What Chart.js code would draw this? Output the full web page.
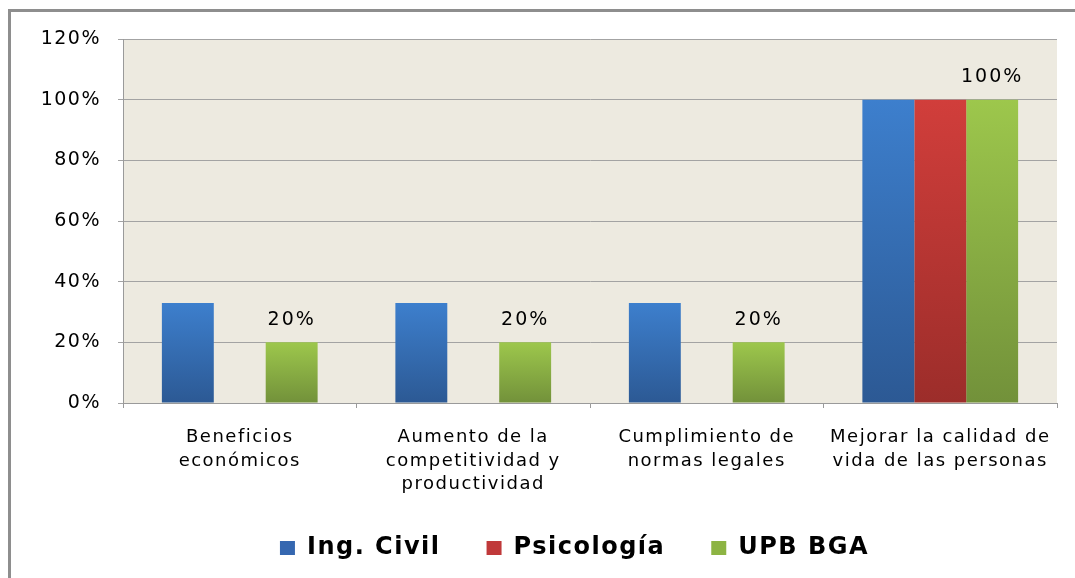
<!DOCTYPE html>
<html>
<head>
<meta charset="utf-8">
<script src="https://cdn.jsdelivr.net/npm/chart.js@4.4.0/dist/chart.umd.min.js"></script>
<style>
  html, body { margin: 0; padding: 0; background: #fff; }
  #wrap { position: relative; width: 1075px; height: 578px; overflow: hidden; }
  #frame { position: absolute; left: 8px; top: 9px; width: 1100px; height: 600px;
           border-top: 3px solid #8e8e8e; border-left: 3px solid #8e8e8e; }
  #chart { position: absolute; left: 0; top: 0; }
</style>
</head>
<body>
<div id="wrap">
  <div id="frame"></div>
  <canvas id="chart" width="1075" height="578"></canvas>
</div>
<script>
// categories (x axis)
const categories = [
    ['Beneficios', 'económicos'],
    ['Aumento de la', 'competitividad y', 'productividad'],
    ['Cumplimiento de', 'normas legales'],
    ['Mejorar la calidad de', 'vida de las personas']
];

// series values (%)
const ingCivil = [33, 33, 33, 100];
const psicologia = [0, 0, 0, 100];
const upbBga = [20, 20, 20, 100];

const seriesNames = ['Ing. Civil', 'Psicología', 'UPB BGA'];
// [top, bottom] of each bar gradient
const seriesColors = [
    ['#3d7fcd', '#2c5994'],
    ['#d13e3b', '#9c2d2a'],
    ['#9dc74c', '#72913a']
];
const legendColors = ['#3567b0', '#c0393a', '#8db443'];

// y tick values
const yMax = 120;
const yStep = 20;

const FONT = "'DejaVu Sans', Verdana, sans-serif";

function barGradient(idx) {
    return (ctx) => {
        const chart = ctx.chart;
        const area = chart.chartArea;
        if (!area || ctx.parsed === undefined) return seriesColors[idx][0];
        const y = chart.scales.y;
        const top = y.getPixelForValue(ctx.parsed.y);
        const bottom = y.getPixelForValue(0);
        if (!(bottom - top > 0)) return seriesColors[idx][0];
        const g = chart.ctx.createLinearGradient(0, top, 0, bottom);
        g.addColorStop(0, seriesColors[idx][0]);
        g.addColorStop(1, seriesColors[idx][1]);
        return g;
    };
}

// the original text is set quite wide, so spread the letters a bit
const spacing = {
    id: 'spacing',
    beforeInit(chart) { chart.ctx.letterSpacing = '1.5px'; },
    beforeLayout(chart) { chart.ctx.letterSpacing = '1.5px'; },
    afterLayout(chart) {
        // let the 3-line category label run past the axis box (not clipped)
        chart.scales.x.bottom += 40;
        // legend sits a bit right of centre in the original
        chart.legend.left += 46;
        chart.legend.right += 46;
    }
};

// beige plot background
const plotBg = {
    id: 'plotBg',
    beforeDraw(chart) {
        const a = chart.chartArea;
        const c = chart.ctx;
        c.save();
        c.fillStyle = '#edeae0';
        c.fillRect(a.left, a.top, a.right - a.left, a.bottom - a.top);
        c.restore();
    }
};

// value labels above the UPB BGA bars only
const valueLabels = {
    id: 'valueLabels',
    afterDatasetsDraw(chart) {
        const c = chart.ctx;
        const meta = chart.getDatasetMeta(2);
        c.save();
        c.font = '19px ' + FONT;
        c.letterSpacing = '2px';
        c.fillStyle = '#000';
        c.textAlign = 'center';
        c.textBaseline = 'bottom';
        meta.data.forEach((bar, i) => {
            c.fillText(upbBga[i] + '%', bar.x, bar.y - 13);
        });
        c.restore();
    }
};

const datasets = [ingCivil, psicologia, upbBga].map((vals, i) => ({
    label: seriesNames[i],
    data: vals,
    backgroundColor: barGradient(i),
    borderWidth: 0,
    categoryPercentage: 0.667,
    barPercentage: 1.0
}));

new Chart(document.getElementById('chart'), {
    type: 'bar',
    data: { labels: categories, datasets },
    options: {
        responsive: false,
        animation: false,
        layout: { padding: { top: 39, right: 18, left: 0, bottom: 8 } },
        plugins: {
            tooltip: { enabled: false },
            legend: {
                position: 'bottom',
                labels: {
                    font: { family: FONT, size: 24, weight: 'bold' },
                    color: '#000',
                    boxWidth: 15,
                    boxHeight: 14,
                    padding: 46,
                    generateLabels: (chart) => seriesNames.map((n, i) => ({
                        text: n,
                        fillStyle: legendColors[i],
                        strokeStyle: legendColors[i],
                        lineWidth: 0,
                        datasetIndex: i
                    }))
                }
            }
        },
        scales: {
            x: {
                grid: { drawOnChartArea: false, offset: true, tickLength: 5, color: '#9a9a9a' },
                border: { color: '#9a9a9a' },
                ticks: {
                    font: { family: FONT, size: 18, lineHeight: 1.3 },
                    color: '#000',
                    padding: 18,
                    maxRotation: 0,
                    autoSkip: false
                },
                afterFit: (s) => { s.height = 87; }
            },
            y: {
                min: 0,
                max: yMax,
                ticks: {
                    stepSize: yStep,
                    font: { family: FONT, size: 19 },
                    color: '#000',
                    padding: 17,
                    callback: (v) => v + '%'
                },
                grid: { color: '#a3a3a3', tickLength: 5 },
                border: { color: '#9a9a9a' },
                afterFit: (s) => { s.width = 123; }
            }
        }
    },
    plugins: [spacing, plotBg, valueLabels]
});
</script>
</body>
</html>
